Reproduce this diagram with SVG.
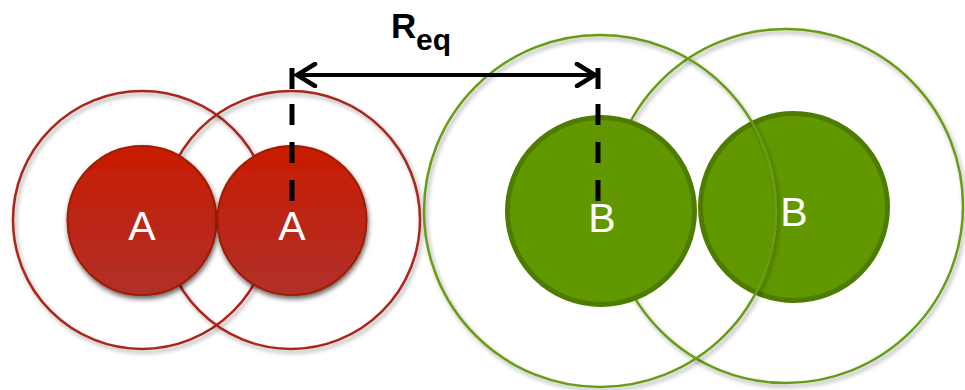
<svg xmlns="http://www.w3.org/2000/svg" width="965" height="390" viewBox="0 0 965 390">
  <defs>
    <filter id="sh" x="-20%" y="-20%" width="140%" height="140%">
      <feDropShadow dx="2" dy="3" stdDeviation="2" flood-color="#000" flood-opacity="0.35"/>
    </filter>
    <filter id="shd" x="-20%" y="-20%" width="140%" height="140%">
      <feDropShadow dx="1" dy="3" stdDeviation="2.5" flood-color="#000" flood-opacity="0.6"/>
    </filter>
    <linearGradient id="redg" x1="0" y1="0" x2="0" y2="1">
      <stop offset="0" stop-color="#C91C00"/>
      <stop offset="1" stop-color="#B0302A"/>
    </linearGradient>
    <marker id="ah" viewBox="0 0 24 26" refX="22" refY="13" markerWidth="24" markerHeight="26" markerUnits="userSpaceOnUse" orient="auto-start-reverse">
      <polyline points="3,2 21,13 3,24" fill="none" stroke="#000" stroke-width="4.5" stroke-linecap="round" stroke-linejoin="miter"/>
    </marker>
    <style>
      .outerR { fill: none; stroke: #A8281A; stroke-width: 2.5; filter: url(#sh); }
      .innerR { fill: url(#redg); stroke: #9E1C06; stroke-width: 2; filter: url(#shd); }
      .outerG { fill: none; stroke: #689C18; stroke-width: 2.5; filter: url(#sh); }
      .innerG { fill: #619800; stroke: #4E7C00; stroke-width: 5; }
      .lbl { font-family: "Liberation Sans", "Open Sans", sans-serif; font-size: 41px; fill: #fff; text-anchor: middle; }
      .tick { stroke: #000; stroke-width: 5; fill: none; }
      .dash { stroke: #000; stroke-width: 5; fill: none; stroke-dasharray: 21 17; }
      .req { font-family: "Liberation Sans", "Open Sans", sans-serif; font-weight: bold; fill: #000; }
    </style>
  </defs>

  <g id="molecule-A-left-range">
    <circle class="outerR" cx="142" cy="220" r="129"/>
  </g>
  <g id="molecule-A-right-range">
    <circle class="outerR" cx="291" cy="220" r="129"/>
  </g>
  <g id="molecule-A-left">
    <circle class="innerR" cx="142" cy="220.5" r="74.5"/>
    <text class="lbl" x="142" y="240">A</text>
  </g>
  <g id="molecule-A-right">
    <circle class="innerR" cx="292" cy="220.5" r="74.5"/>
    <text class="lbl" x="292" y="240">A</text>
  </g>

  <g id="molecule-B-right-range">
    <circle class="outerG" cx="786" cy="206" r="177"/>
  </g>
  <g id="molecule-B-right">
    <circle class="innerG" cx="794" cy="207" r="93.5"/>
    <text class="lbl" x="794" y="226">B</text>
  </g>
  <g id="molecule-B-left-range">
    <circle class="outerG" cx="600" cy="211" r="176"/>
  </g>
  <g id="molecule-B-left">
    <circle class="innerG" cx="601" cy="211" r="93.5"/>
    <text class="lbl" x="602" y="232">B</text>
  </g>

  <g id="connectors">
    <line x1="296" y1="75" x2="596" y2="75" stroke="#000" stroke-width="4" marker-start="url(#ah)" marker-end="url(#ah)"/>
    <line class="tick" x1="292" y1="68" x2="292" y2="89"/>
    <line class="tick" x1="598" y1="68" x2="598" y2="89"/>
    <line class="dash" x1="292" y1="104" x2="292" y2="201"/>
    <line class="dash" x1="598" y1="104" x2="598" y2="201"/>
  </g>

  <g id="label-req">
    <text class="req" x="391" y="38" font-size="35">R</text>
    <text class="req" x="416" y="50" font-size="30">eq</text>
  </g>
</svg>
